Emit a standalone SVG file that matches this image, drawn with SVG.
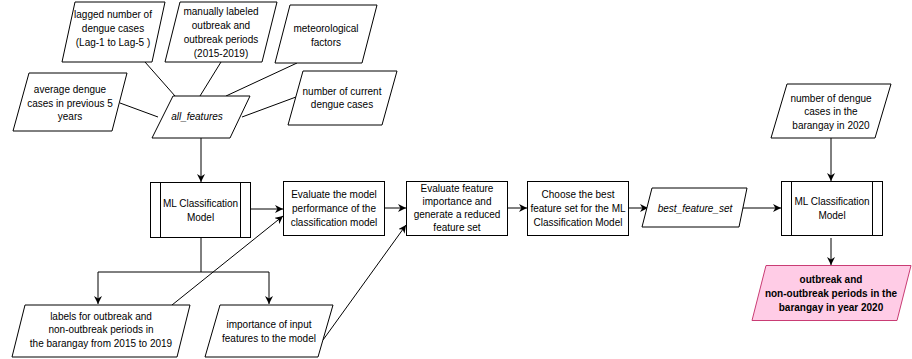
<svg xmlns="http://www.w3.org/2000/svg" width="912" height="359" viewBox="0 0 912 359">
<style>
.s{fill:#fff;stroke:#000;stroke-width:1}
.p{fill:#FFCCE6;stroke:#C93C74;stroke-width:1}
.c{fill:none;stroke:#000;stroke-width:1}
.t{font-family:"Liberation Sans",Arial,sans-serif;font-size:10px;fill:#000;text-anchor:middle}
.i{font-style:italic}
.b{font-weight:bold}
</style>
<defs>
<marker id="a" viewBox="0 0 10 10" refX="10" refY="5" markerWidth="8" markerHeight="8" markerUnits="userSpaceOnUse" orient="auto">
<path d="M0,0 L10,5 L0,10 L3,5 z" fill="#000"/>
</marker>
</defs>
<g id="connectors">
<line class="c" x1="145" y1="62" x2="175" y2="96"/>
<line class="c" x1="221" y1="62" x2="200" y2="96"/>
<line class="c" x1="297" y1="63" x2="226" y2="96"/>
<line class="c" x1="120" y1="103" x2="158" y2="117"/>
<line class="c" x1="296" y1="97" x2="242" y2="117"/>
<line class="c" x1="201" y1="138" x2="201" y2="182" marker-end="url(#a)"/>
<line class="c" x1="251" y1="209" x2="283" y2="209" marker-end="url(#a)"/>
<polyline class="c" points="201,238 201,272 98,272 98,304" marker-end="url(#a)"/>
<polyline class="c" points="201,272 269,272 269,304" marker-end="url(#a)"/>
<line class="c" x1="172" y1="305" x2="283" y2="216" marker-end="url(#a)"/>
<line class="c" x1="323" y1="340" x2="406" y2="225" marker-end="url(#a)"/>
<line class="c" x1="385" y1="208" x2="406" y2="208" marker-end="url(#a)"/>
<line class="c" x1="508" y1="208" x2="527" y2="208" marker-end="url(#a)"/>
<line class="c" x1="628" y1="208" x2="648" y2="208" marker-end="url(#a)"/>
<line class="c" x1="739" y1="208" x2="781" y2="208" marker-end="url(#a)"/>
<line class="c" x1="831" y1="138" x2="831" y2="181" marker-end="url(#a)"/>
<line class="c" x1="831" y1="238" x2="831" y2="265" marker-end="url(#a)"/>
</g>
<g id="lagged">
<polygon class="s" points="75,2 165,2 152,62 62,62"/>
<text class="t" x="113" y="18">lagged number of</text>
<text class="t" x="113" y="32">dengue cases</text>
<text class="t" x="113" y="46">(Lag-1 to Lag-5 )</text>
</g>
<g id="manual">
<polygon class="s" points="180,2 277,2 262,62 165,62"/>
<text class="t" x="221" y="15">manually labeled</text>
<text class="t" x="221" y="29">outbreak and</text>
<text class="t" x="221" y="43">outbreak periods</text>
<text class="t" x="221" y="57">(2015-2019)</text>
</g>
<g id="meteo">
<polygon class="s" points="290,5 377,5 362,63 275,63"/>
<text class="t" x="326" y="32">meteorological</text>
<text class="t" x="326" y="46">factors</text>
</g>
<g id="average">
<polygon class="s" points="29,73 127,73 112,131 13,131"/>
<text class="t" x="70" y="93">average dengue</text>
<text class="t" x="70" y="107">cases in previous 5</text>
<text class="t" x="70" y="120">years</text>
</g>
<g id="current">
<polygon class="s" points="303,71 397,71 382,125 288,125"/>
<text class="t" x="342" y="95">number of current</text>
<text class="t" x="342" y="108">dengue cases</text>
</g>
<g id="all_features">
<polygon class="s" points="173,96 250,96 230,138 152,138"/>
<text class="t i" x="197" y="120">all_features</text>
</g>
<g id="ml1">
<rect class="s" x="150.5" y="182.5" width="100" height="55"/>
<line class="c" x1="160.5" y1="182.5" x2="160.5" y2="237.5"/>
<line class="c" x1="240.5" y1="182.5" x2="240.5" y2="237.5"/>
<text class="t" x="200.5" y="207">ML Classification</text>
<text class="t" x="200.5" y="221">Model</text>
</g>
<g id="evalmodel">
<rect class="s" x="283.5" y="181.5" width="101" height="54"/>
<text class="t" x="334" y="198">Evaluate the model</text>
<text class="t" x="334" y="212">performance of the</text>
<text class="t" x="334" y="226">classification model</text>
</g>
<g id="evalfeat">
<rect class="s" x="406.5" y="181.5" width="101" height="54"/>
<text class="t" x="457" y="192">Evaluate feature</text>
<text class="t" x="457" y="205">importance and</text>
<text class="t" x="457" y="218">generate a reduced</text>
<text class="t" x="457" y="231">feature set</text>
</g>
<g id="choose">
<rect class="s" x="527.5" y="181.5" width="101" height="54"/>
<text class="t" x="578" y="198">Choose the best</text>
<text class="t" x="578" y="212">feature set for the ML</text>
<text class="t" x="578" y="226">Classification Model</text>
</g>
<g id="best">
<polygon class="s" points="652,188 747,188 739,227 642,227"/>
<text class="t i" x="695" y="212">best_feature_set</text>
</g>
<g id="dengue2020">
<polygon class="s" points="787,84 891,84 875,138 771,138"/>
<text class="t" x="831" y="102">number of dengue</text>
<text class="t" x="831" y="115">cases in the</text>
<text class="t" x="831" y="129">barangay in 2020</text>
</g>
<g id="ml2">
<rect class="s" x="781.5" y="181.5" width="101" height="54"/>
<line class="c" x1="791.5" y1="181.5" x2="791.5" y2="235.5"/>
<line class="c" x1="872.5" y1="181.5" x2="872.5" y2="235.5"/>
<text class="t" x="832" y="205">ML Classification</text>
<text class="t" x="832" y="219">Model</text>
</g>
<g id="output">
<polygon class="p" points="766,265.5 911,265.5 897,320.5 752,320.5"/>
<text class="t b" x="831" y="283">outbreak and</text>
<text class="t b" x="831" y="297">non-outbreak periods in the</text>
<text class="t b" x="831" y="311">barangay in year 2020</text>
</g>
<g id="labels">
<polygon class="s" points="25,305 190,305 177,357 12,357"/>
<text class="t" x="101" y="320">labels for outbreak and</text>
<text class="t" x="101" y="333">non-outbreak periods in</text>
<text class="t" x="101" y="347">the barangay from 2015 to 2019</text>
</g>
<g id="importance">
<polygon class="s" points="220,305 333,305 318,357 205,357"/>
<text class="t" x="269" y="328">importance of input</text>
<text class="t" x="269" y="342">features to the model</text>
</g>
</svg>
